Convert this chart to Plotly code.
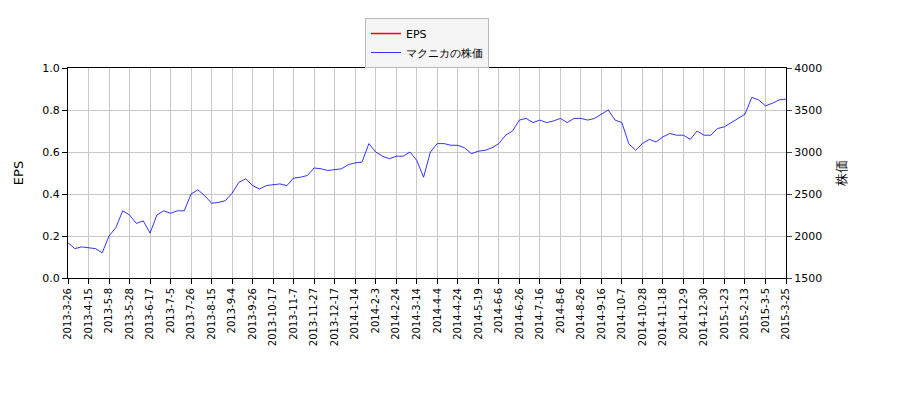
import plotly.graph_objects as go

tick_labels = ["2013-3-26","2013-4-15","2013-5-8","2013-5-28","2013-6-17","2013-7-5","2013-7-26","2013-8-15",
"2013-9-4","2013-9-26","2013-10-17","2013-11-7","2013-11-27","2013-12-17","2014-1-14","2014-2-3","2014-2-24",
"2014-3-14","2014-4-4","2014-4-24","2014-5-19","2014-6-6","2014-6-26","2014-7-16","2014-8-6","2014-8-26",
"2014-9-16","2014-10-7","2014-10-28","2014-11-18","2014-12-9","2014-12-30","2015-1-23","2015-2-13","2015-3-5","2015-3-25"]

mid_dates = [("2013-4-1","2013-4-8"),("2013-4-22","2013-4-30"),("2013-5-14","2013-5-21"),("2013-6-3","2013-6-10"),
("2013-6-21","2013-6-27"),("2013-7-11","2013-7-18"),("2013-8-1","2013-8-7"),("2013-8-21","2013-8-28"),
("2013-9-11","2013-9-18"),("2013-10-3","2013-10-10"),("2013-10-24","2013-10-31"),("2013-11-13","2013-11-20"),
("2013-12-3","2013-12-10"),("2013-12-25","2014-1-7"),("2014-1-21","2014-1-27"),("2014-2-10","2014-2-17"),
("2014-3-3","2014-3-7"),("2014-3-20","2014-3-28"),("2014-4-10","2014-4-17"),("2014-5-2","2014-5-12"),
("2014-5-26","2014-5-30"),("2014-6-12","2014-6-19"),("2014-7-2","2014-7-9"),("2014-7-23","2014-7-30"),
("2014-8-13","2014-8-19"),("2014-9-2","2014-9-9"),("2014-9-24","2014-10-1"),("2014-10-15","2014-10-21"),
("2014-11-4","2014-11-11"),("2014-11-25","2014-12-2"),("2014-12-15","2014-12-22"),("2015-1-8","2015-1-15"),
("2015-1-29","2015-2-5"),("2015-2-20","2015-2-27"),("2015-3-11","2015-3-18")]

tick_prices = [1920,1860,2000,2250,2035,2270,2500,2390,2510,2600,2610,2690,2810,2790,2870,3000,2950,2900,
3100,3080,3010,3100,3380,3380,3400,3400,3450,3350,3100,3180,3200,3200,3300,3450,3550,3630]
mid_prices = [(1850,1870),(1850,1800),(2100,2300),(2150,2180),(2250,2300),(2300,2300),(2550,2480),(2400,2420),
(2640,2680),(2560,2600),(2620,2600),(2700,2720),(2800,2780),(2800,2850),(2880,3100),(2950,2920),(2950,3000),
(2700,3000),(3100,3080),(3050,2980),(3020,3050),(3200,3250),(3400,3350),(3350,3370),(3350,3400),(3380,3400),
(3500,3380),(3100,3020),(3150,3120),(3220,3200),(3150,3250),(3200,3280),(3350,3400),(3650,3620),(3580,3620)]

dates, prices = [], []
for i, t in enumerate(tick_labels):
    dates.append(t); prices.append(tick_prices[i])
    if i < len(mid_dates):
        dates += list(mid_dates[i]); prices += list(mid_prices[i])

fig = go.Figure()
fig.add_trace(go.Scatter(x=[dates[0]], y=[None], mode="lines", name="EPS", line=dict(color="red", width=1.5)))
fig.add_trace(go.Scatter(x=dates, y=prices, mode="lines", name="マクニカの株価", yaxis="y2",
                         line=dict(color="blue", width=0.8)))

ax = dict(showline=True, linecolor="black", mirror=True, ticks="outside", tickcolor="black",
          gridcolor="#c8c8c8", zeroline=False)
fig.update_layout(
    width=900, height=400, plot_bgcolor="white", paper_bgcolor="white",
    font=dict(family="DejaVu Sans", size=11, color="black"),
    margin=dict(l=60, r=122, t=60, b=130, autoexpand=False),
    xaxis=dict(type="category", tickmode="array", tickvals=tick_labels, ticktext=tick_labels,
               tickangle=-90, range=[0, len(dates)-1], tickfont=dict(size=10), **ax),
    yaxis=dict(title="EPS", range=[0, 1], dtick=0.2, tickformat=".1f", **ax),
    yaxis2=dict(title="株価", overlaying="y", side="right", range=[1500, 4000], dtick=500,
                showgrid=False, showline=True, linecolor="black", ticks="outside", zeroline=False),
    legend=dict(x=0.5, y=1.238, xanchor="center", yanchor="top", bordercolor="#bbb", borderwidth=1,
                bgcolor="#f5f5f5"),
)
fig.write_html("out.html")
